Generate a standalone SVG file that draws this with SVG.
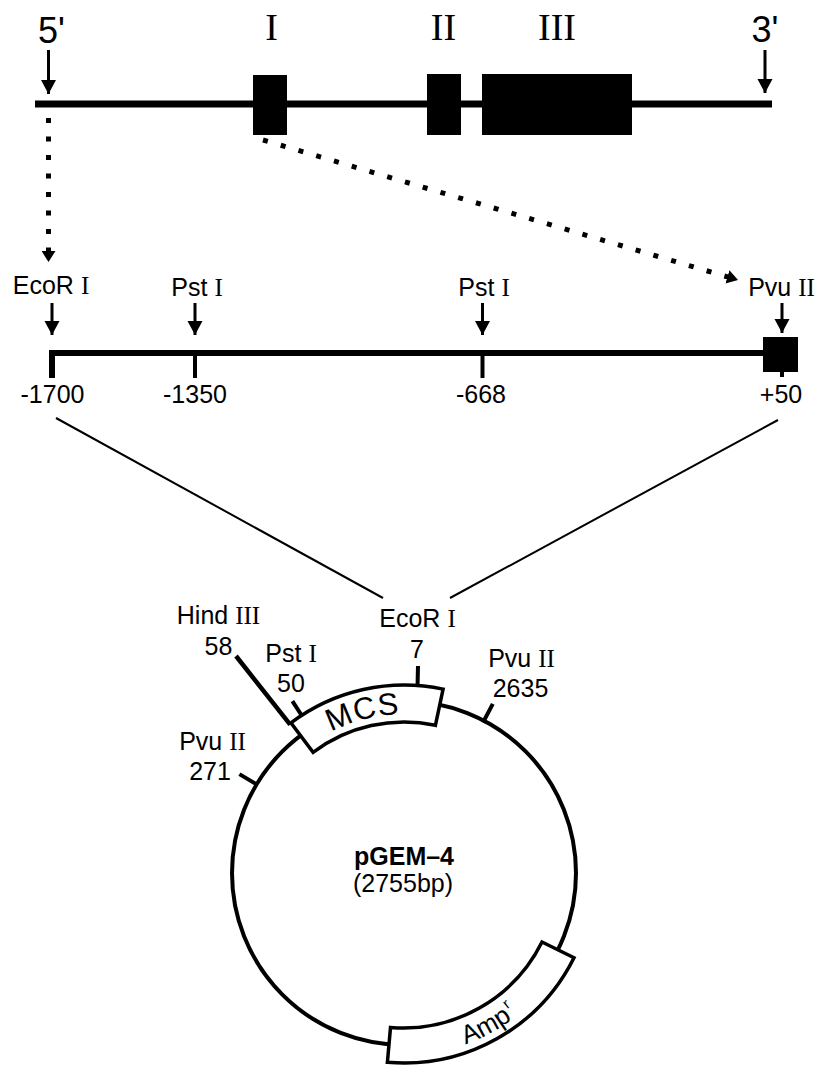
<svg xmlns="http://www.w3.org/2000/svg" width="818" height="1066" viewBox="0 0 818 1066">
<style>
.t{font-family:"Liberation Sans",Arial,sans-serif;font-size:25px;fill:#000}
.big{font-family:"Liberation Sans",Arial,sans-serif;font-size:36px;fill:#000}
.rom{font-family:"Liberation Serif","Times New Roman",serif}
.ex{font-family:"Liberation Serif","Times New Roman",serif;font-size:38px;fill:#000}
.arr{stroke:#000;stroke-width:3;fill:none}
.dot{stroke:#000;stroke-width:5;fill:none;stroke-dasharray:5 13.5}
.thin{stroke:#000;stroke-width:2;fill:none}
.tick{stroke:#000;stroke-width:4;fill:none}
.box{fill:#fff;stroke:#000;stroke-width:3.5}
</style>
<defs>
<marker id="ah" markerUnits="userSpaceOnUse" markerWidth="16" markerHeight="16" refX="14" refY="8" orient="auto" viewBox="0 0 16 16">
<path d="M0,0.5 L14,8 L0,15.5 z" fill="#000"/>
</marker>
<marker id="ahs" markerUnits="userSpaceOnUse" markerWidth="14" markerHeight="14" refX="11" refY="7" orient="auto" viewBox="0 0 14 14">
<path d="M0,0 L11,7 L0,14 z" fill="#000"/>
</marker>
<path id="mcsPath" d="M306,748 A158,158 0 0 1 438,718"/>
<path id="ampPath" d="M388.1,1054.3 A182,182 0 0 0 566.9,954.2"/>
</defs>

<g id="gene">
<line x1="35" y1="104" x2="772" y2="104" stroke="#000" stroke-width="7"/>
<rect x="253" y="75" width="34" height="60" fill="#000"/>
<rect x="427" y="74" width="34" height="61" fill="#000"/>
<rect x="482" y="74" width="150" height="61" fill="#000"/>
<text x="271.5" y="40" class="ex" text-anchor="middle">I</text>
<text x="443.5" y="40" class="ex" text-anchor="middle">II</text>
<text x="557" y="40" class="ex" text-anchor="middle">III</text>
<text x="51.5" y="43" class="big" text-anchor="middle">5'</text>
<text x="765" y="42" class="big" text-anchor="middle">3'</text>
<line x1="48.5" y1="50" x2="48.5" y2="94" class="arr" marker-end="url(#ah)"/>
<line x1="765" y1="50" x2="765" y2="93" class="arr" marker-end="url(#ah)"/>
</g>

<g id="promoter">
<path d="M52,378 L52,353 L764,353" stroke="#000" stroke-width="6" fill="none"/>
<line x1="52" y1="353" x2="52" y2="378" stroke="#000" stroke-width="4"/>
<line x1="195" y1="353" x2="195" y2="378" stroke="#000" stroke-width="4"/>
<line x1="482.5" y1="353" x2="482.5" y2="378" stroke="#000" stroke-width="4"/>
<rect x="763" y="337" width="35" height="35" fill="#000"/>
<line x1="782" y1="370" x2="782" y2="377" stroke="#000" stroke-width="4"/>
<text x="51" y="294" class="t" text-anchor="middle">EcoR <tspan class="rom">I</tspan></text>
<text x="197" y="296" class="t" text-anchor="middle">Pst <tspan class="rom">I</tspan></text>
<text x="484" y="296" class="t" text-anchor="middle">Pst <tspan class="rom">I</tspan></text>
<text x="781.5" y="296" class="t" text-anchor="middle">Pvu <tspan class="rom">II</tspan></text>
<line x1="52" y1="303" x2="52" y2="335" class="arr" marker-end="url(#ah)"/>
<line x1="195" y1="303" x2="195" y2="335" class="arr" marker-end="url(#ah)"/>
<line x1="482.5" y1="303" x2="482.5" y2="335" class="arr" marker-end="url(#ah)"/>
<line x1="782" y1="303" x2="782" y2="333" class="arr" marker-end="url(#ah)"/>
<text x="52.5" y="403" class="t" text-anchor="middle">-1700</text>
<text x="195" y="403" class="t" text-anchor="middle">-1350</text>
<text x="481" y="403" class="t" text-anchor="middle">-668</text>
<text x="781" y="403" class="t" text-anchor="middle">+50</text>
</g>

<g id="connectors">
<line x1="48.5" y1="118" x2="48.5" y2="262" class="dot" marker-end="url(#ahs)"/>
<line x1="263" y1="140" x2="738" y2="280" class="dot" marker-end="url(#ahs)"/>
<line x1="56" y1="418" x2="383" y2="598" class="thin"/>
<line x1="450" y1="598" x2="778" y2="420" class="thin"/>
</g>

<g id="plasmid">
<circle cx="404" cy="873" r="172" fill="none" stroke="#000" stroke-width="4"/>
<line x1="290.2" y1="724.6" x2="236" y2="656" stroke="#000" stroke-width="4.5"/>
<line x1="302.7" y1="717" x2="292.4" y2="701.1" class="tick"/>
<line x1="417.5" y1="687" x2="418" y2="666" class="tick"/>
<line x1="256.6" y1="784.4" x2="239.4" y2="774.1" class="tick"/>
<line x1="483" y1="722.5" x2="492.8" y2="703.9" class="tick"/>
<path class="box" d="M290.9,722.9 A188,188 0 0 1 443.1,689.1 L435.4,725.3 A151,151 0 0 0 313.1,752.4 Z"/>
<path class="box" d="M574,957.8 A190,190 0 0 1 387.4,1062.3 L390.5,1027.5 A155,155 0 0 0 542,942 Z"/>
<text class="t" style="font-size:31px;letter-spacing:1px"><textPath href="#mcsPath" startOffset="47%" text-anchor="middle">MCS</textPath></text>
<text class="t" style="font-size:26px"><textPath href="#ampPath" startOffset="50%" text-anchor="middle">Amp<tspan style="font-size:15px" dx="2" dy="-11">r</tspan></textPath></text>
<text x="218.5" y="624" class="t" text-anchor="middle">Hind <tspan class="rom">III</tspan></text>
<text x="218.5" y="655" class="t" text-anchor="middle">58</text>
<text x="291" y="662" class="t" text-anchor="middle">Pst <tspan class="rom">I</tspan></text>
<text x="291" y="692" class="t" text-anchor="middle">50</text>
<text x="417.5" y="627" class="t" text-anchor="middle">EcoR <tspan class="rom">I</tspan></text>
<text x="417" y="658" class="t" text-anchor="middle">7</text>
<text x="521.5" y="667" class="t" text-anchor="middle">Pvu <tspan class="rom">II</tspan></text>
<text x="520.5" y="697" class="t" text-anchor="middle">2635</text>
<text x="212.5" y="750" class="t" text-anchor="middle">Pvu <tspan class="rom">II</tspan></text>
<text x="210" y="780" class="t" text-anchor="middle">271</text>
<text x="404" y="865" class="t" font-weight="bold" text-anchor="middle">pGEM–4</text>
<text x="403" y="892" class="t" text-anchor="middle">(2755bp)</text>
</g>
</svg>
